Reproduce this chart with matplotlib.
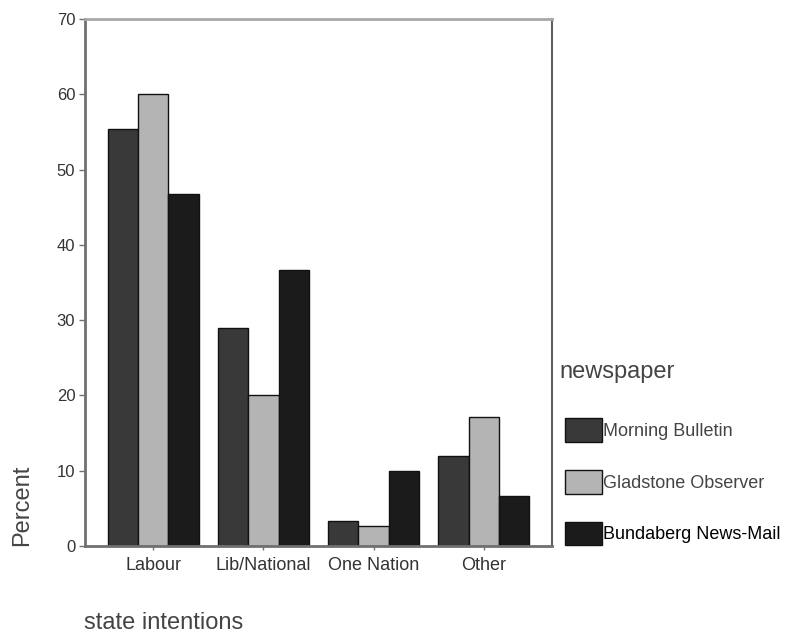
import matplotlib
matplotlib.use("Agg")
import matplotlib.pyplot as plt
import numpy as np

plt.rcParams['font.family'] = ['Liberation Sans', 'DejaVu Sans']

categories = ['Labour', 'Lib/National', 'One Nation', 'Other']
papers = ['Morning Bulletin', 'Gladstone Observer', 'Bundaberg News-Mail']
morning_bulletin = [55.4, 28.9, 3.3, 12.0]
gladstone_observer = [60.0, 20.0, 2.7, 17.1]
bundaberg_news_mail = [46.8, 36.6, 9.9, 6.7]
yticks = [0, 10, 20, 30, 40, 50, 60, 70]

series = [morning_bulletin, gladstone_observer, bundaberg_news_mail]
colors = ['#393939', '#b4b4b4', '#1b1b1b']

fig = plt.figure(figsize=(7.91, 6.33), dpi=100)
ax = fig.add_axes([85/791, 1-546/633, 467/791, 527/633])

x = np.arange(len(categories))
w = 0.275
for i, (vals, c) in enumerate(zip(series, colors)):
    ax.bar(x + (i - 1) * w, vals, width=w, color=c, edgecolor='#111111',
           linewidth=1.0, label=papers[i])

ax.set_xlim(-0.62, 3.62)
ax.set_ylim(0, 70)
ax.set_yticks(yticks)
ax.set_xticks(x)
ax.set_xticklabels(categories)

for s in ['left', 'bottom']:
    ax.spines[s].set_color('#707070')
    ax.spines[s].set_linewidth(2)
ax.spines['top'].set_color('#a8a8a8')
ax.spines['top'].set_linewidth(2)
ax.spines['right'].set_color('#606060')
ax.spines['right'].set_linewidth(1.5)

ax.tick_params(axis='y', length=4, width=1, color='#707070', pad=3,
               labelsize=12, labelcolor='#333333')
ax.tick_params(axis='x', length=3, width=1, color='#707070', pad=5,
               labelsize=13, labelcolor='#333333')

fig.text(22/791, 1-505/633, 'Percent', rotation=90, ha='center', va='center',
         fontsize=17, color='#444444')
fig.text(84/791, 1-629/633, 'state intentions', ha='left', va='baseline',
         fontsize=17, color='#444444')
fig.text(559/791, 1-378/633, 'newspaper', ha='left', va='baseline',
         fontsize=17, color='#444444')

leg = ax.legend(loc='upper left', bbox_to_anchor=(565/791, 1-418/633),
                bbox_transform=fig.transFigure, frameon=False,
                fontsize=13, borderpad=0, borderaxespad=0,
                handlelength=2.05, handleheight=1.65, handletextpad=0.05,
                labelspacing=1.55)
for t in leg.get_texts()[:2]:
    t.set_color('#444444')
leg.get_texts()[2].set_color('black')

fig.savefig('out.png', dpi=100)
